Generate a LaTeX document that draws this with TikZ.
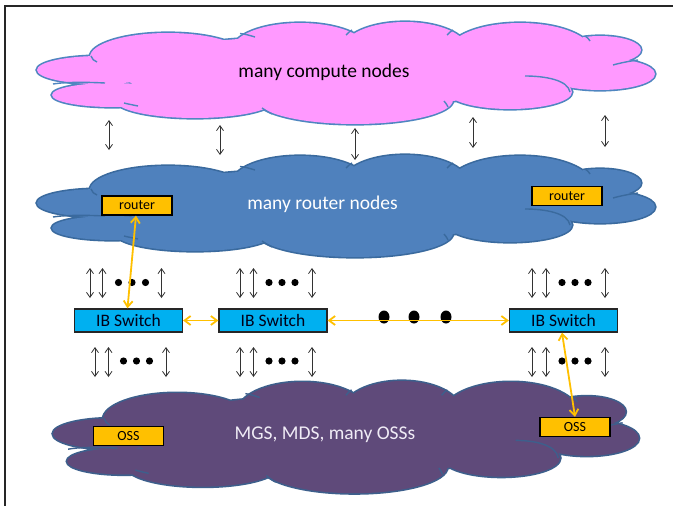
\documentclass[tikz,border=0pt]{standalone}
\usepackage{fontspec}
\setmainfont{Carlito}
\usetikzlibrary{arrows.meta}
\definecolor{pinkfill}{HTML}{FF99FF}
\definecolor{pinkline}{HTML}{4F86C0}
\definecolor{bluefill}{HTML}{4F81BD}
\definecolor{blueline}{HTML}{3A6A9E}
\definecolor{purplefill}{HTML}{5F4A7A}
\definecolor{purpleline}{HTML}{3D5F8C}
\definecolor{gold}{HTML}{FFC000}
\definecolor{switchblue}{HTML}{00B0F0}
\definecolor{purpletext}{HTML}{F0ECF6}
\newcommand{\cloudlobes}{%
(100,70) ellipse [x radius=63pt, y radius=14pt]
(112,95) ellipse [x radius=60pt, y radius=12pt]
(168,57) ellipse [x radius=78pt, y radius=24pt]
(300,50) ellipse [x radius=68pt, y radius=27pt]
(405,49) ellipse [x radius=62pt, y radius=27pt]
(520,52) ellipse [x radius=72pt, y radius=29pt]
(600,50) ellipse [x radius=41pt, y radius=14pt]
(600,74) ellipse [x radius=55pt, y radius=16pt]
(510,92) ellipse [x radius=62pt, y radius=17pt]
(355,100) ellipse [x radius=98pt, y radius=24pt]
(195,100) ellipse [x radius=80pt, y radius=18pt]
(345,70) ellipse [x radius=230pt, y radius=35pt]
}
\newcommand{\cloudinner}{%
(91,56) .. controls (92,59) and (94,61) .. (97,62)
(53,84) .. controls (65,82) and (85,82) .. (105,83)
(124,103) .. controls (128,104) and (133,105) .. (138,106)
(262,108) .. controls (265,110) and (268,112) .. (272,114)
(240,33.5) .. controls (245,34) and (250,35.5) .. (255,37)
(352,30) .. controls (350,31) and (348,33) .. (346,35)
(453,30) .. controls (451,31) and (449,33) .. (447,35)
(585,36) .. controls (587,37) and (589,39) .. (590,41)
(613,65) .. controls (620,63) and (630,61) .. (638,60)
(525,76) .. controls (545,76) and (568,80) .. (570,92)
(448,107) .. controls (447,105) and (446,103) .. (444,101)
}
\newcommand{\drawcloud}[3]{%
\begin{scope}[#3]
\path[draw=#2, fill=#1, line width=3.2pt] \cloudlobes;
\path[fill=#1] \cloudlobes;
\draw[#2, line width=1.4pt] \cloudinner;
\end{scope}}
\tikzset{
  cloudtext/.style={font=\fontsize{19.5}{22}\selectfont},
  routerbox/.style={draw=black, line width=1.3pt, fill=gold, minimum width=70pt, minimum height=19pt, inner sep=0pt, font=\fontsize{14}{16}\selectfont},
  switchbox/.style={draw=black!85, line width=1.3pt, fill=switchblue, minimum width=108pt, minimum height=23pt, inner sep=0pt, text=black!90!blue, font=\fontsize{17.5}{20}\selectfont},
  goldarrow/.style={draw=gold, line width=1.8pt, {Straight Barb[length=6pt,width=9pt]}-{Straight Barb[length=6pt,width=9pt]}},
  dblarrow/.style={draw=black!80, line width=0.8pt, {Straight Barb[length=5pt,width=7pt]}-{Straight Barb[length=5pt,width=7pt]}},
  smalldot/.style={fill=black},
}
\begin{document}
\begin{tikzpicture}[x=1pt, y=-1pt]
\useasboundingbox (0,0) rectangle (673,506);
\fill[white] (0,0) rectangle (673,506);
\draw[line width=2pt, black!85] (5,506) -- (5,6) -- (673,6);

% clouds
\drawcloud{pinkfill}{pinkline}{shift={(0,0)}}
\drawcloud{bluefill}{blueline}{shift={(0,133)}}
\drawcloud{purplefill}{purpleline}{shift={(17.87,356.8)}, xscale=0.948, yscale=1.10}

\node[cloudtext] (ctext) at (324,72) {many compute nodes};
\node[cloudtext, text=white] (rtext) at (322.5,204) {many router nodes};
\node[cloudtext, text=purpletext] (mtext) at (325,435) {MGS, MDS, many OSSs};

% boxes
\node[routerbox] (r1) at (137,205.5) {router};
\node[routerbox] (r2) at (567,196) {router};
\node[switchbox] (s1) at (128.5,320.5) {IB Switch};
\node[switchbox] (s2) at (273,320.5) {IB Switch};
\node[switchbox] (s3) at (563.5,320.5) {IB Switch};
\node[routerbox] (o1) at (128.5,436) {OSS};
\node[routerbox] (o2) at (575,427) {OSS};

% top arrows
\foreach \i/\x/\ya/\yb in {1/109/120/150, 2/220/125/155, 3/355/128/160, 4/473/117/148, 5/605/115/147} {
  \coordinate (ta\i) at (\x,\ya);
  \coordinate (tb\i) at (\x,\yb);
  \draw[dblarrow] (ta\i) -- (tb\i);
}
% arrows above switches
\foreach \i/\x in {1/90, 2/102.5, 3/161.5, 4/240, 5/253.5, 6/312, 7/532, 8/546, 9/605} {
  \coordinate (ua\i) at (\x,268);
  \coordinate (ub\i) at (\x,298);
  \draw[dblarrow] (ua\i) -- (ub\i);
}
% arrows below switches
\foreach \i/\x in {1/95, 2/108.5, 3/166, 4/240, 5/253.5, 6/312, 7/532, 8/546, 9/605} {
  \coordinate (la\i) at (\x,347);
  \coordinate (lb\i) at (\x,377);
  \draw[dblarrow] (la\i) -- (lb\i);
}
% small dots
\foreach \x in {118.5,132,145.5, 269,282,295, 562,575,588}
  \fill[smalldot] (\x,282.5) circle[radius=3.6pt];
\foreach \x in {123.5,136.5,149.5, 269,282,295, 562,575,588}
  \fill[smalldot] (\x,361) circle[radius=3.6pt];
% big dots
\foreach \x in {384,414,446}
  \fill[smalldot] (\x,317) ellipse[x radius=5.5pt, y radius=6.5pt];

% gold connectors
\draw[goldarrow] (s1.east) -- (s2.west);
\draw[goldarrow] (s2.east) -- (s3.west);
\draw[goldarrow] ([xshift=-1pt]r1.south) -- ([xshift=-1pt]s1.north);
\draw[goldarrow] ([xshift=-1.5pt]s3.south) -- (o2.north);
\end{tikzpicture}
\end{document}
